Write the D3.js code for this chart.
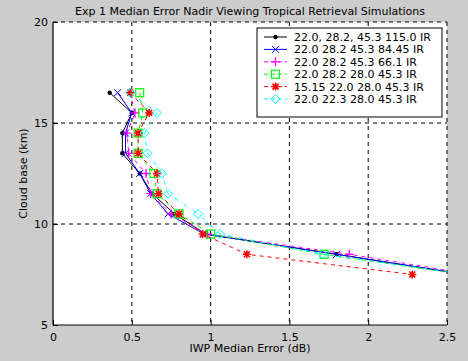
<!DOCTYPE html>
<html>
<head>
    <script src="https://cdn.jsdelivr.net/npm/d3@7/dist/d3.min.js"></script>
    <style>
        html, body { margin: 0; padding: 0; background: #cccccc; overflow: hidden; }
        svg { display: block; }
        text { font-family: "DejaVu Sans", Arial, sans-serif; }
    </style>
</head>
<body>
    <svg width="468" height="361" id="mainsvg"></svg>
    <script>
        // cloud base levels (km)
        const cloudBase = [16.5, 15.5, 14.5, 13.5, 12.5, 11.5, 10.5, 9.5, 8.5, 7.5];

        // IWP median error (dB) per simulation
        const err115 = [0.36, 0.50, 0.44, 0.44, 0.55, 0.63, 0.77, 0.97, 1.80, 2.61];
        const err8445 = [0.41, 0.50, 0.46, 0.46, 0.55, 0.62, 0.73, 0.96, 1.80, 2.62];
        const err661 = [0.49, 0.52, 0.47, 0.48, 0.59, 0.62, 0.75, 0.98, 1.88, 2.66];
        const err453 = [0.55, 0.57, 0.54, 0.54, 0.64, 0.66, 0.80, 1.00, 1.72, 2.60];
        const err1515 = [0.49, 0.61, 0.54, 0.54, 0.66, 0.67, 0.80, 0.95, 1.23, 2.28];
        const err223 = [0.49, 0.66, 0.58, 0.60, 0.69, 0.73, 0.92, 1.06, 1.71, 2.63];

        const legendLabels = [
            '22.0, 28.2, 45.3 115.0 IR',
            '22.0 28.2 45.3 84.45 IR',
            '22.0 28.2 45.3 66.1 IR',
            '22.0 28.2 28.0 45.3 IR',
            '15.15 22.0 28.0 45.3 IR',
            '22.0 22.3 28.0 45.3 IR'
        ];
        const xTicks = [0, 0.5, 1, 1.5, 2, 2.5];
        const yTicks = [5, 10, 15, 20];

        const series = [
            { name: legendLabels[0], values: err115, color: '#000000', dash: null, marker: 'dot' },
            { name: legendLabels[1], values: err8445, color: '#0000ff', dash: null, marker: 'x' },
            { name: legendLabels[2], values: err661, color: '#ff00ff', dash: '4,4', marker: 'plus' },
            { name: legendLabels[3], values: err453, color: '#00ff00', dash: '4,4', marker: 'square' },
            { name: legendLabels[4], values: err1515, color: '#ff0000', dash: '4,4', marker: 'star' },
            { name: legendLabels[5], values: err223, color: '#00ffff', dash: '4,3,1,3', marker: 'diamond' }
        ];

        const svg = d3.select('svg');
        const margin = { top: 22, right: 21, bottom: 36, left: 53 };
        const innerWidth = 468 - margin.left - margin.right;
        const innerHeight = 361 - margin.top - margin.bottom;

        const xScale = d3.scaleLinear().domain([0, 2.5]).range([0, innerWidth]);
        const yScale = d3.scaleLinear().domain([5, 20]).range([innerHeight, 0]);

        const g = svg.append('g')
            .attr('transform', `translate(${margin.left}, ${margin.top})`);

        g.append('rect')
            .attr('width', innerWidth)
            .attr('height', innerHeight)
            .attr('fill', 'white');

        g.append('clipPath').attr('id', 'clip')
            .append('rect').attr('width', innerWidth).attr('height', innerHeight);

        // grid
        g.selectAll('.xgrid').data(xTicks.slice(1))
            .join('line')
            .attr('x1', d => xScale(d)).attr('x2', d => xScale(d))
            .attr('y1', 0).attr('y2', innerHeight)
            .attr('stroke', 'black').attr('stroke-dasharray', '4,4');
        g.selectAll('.ygrid').data(yTicks.slice(1))
            .join('line')
            .attr('x1', 0).attr('x2', innerWidth)
            .attr('y1', d => yScale(d)).attr('y2', d => yScale(d))
            .attr('stroke', 'black').attr('stroke-dasharray', '4,4');

        // axes
        const xAxis = d3.axisBottom(xScale).tickValues(xTicks)
            .tickSize(-5).tickPadding(8).tickFormat(d3.format('~g'));
        const yAxis = d3.axisLeft(yScale).tickValues(yTicks)
            .tickSize(-5).tickPadding(5);

        const xg = g.append('g').attr('transform', `translate(0, ${innerHeight})`).call(xAxis);
        const yg = g.append('g').call(yAxis);
        [xg, yg].forEach(a => {
            a.select('.domain').attr('stroke', 'black').attr('stroke-width', 1.2);
            a.selectAll('.tick text').attr('font-size', '11px').attr('fill', 'black');
        });
        xg.select('.domain').attr('d', `M0,0H${innerWidth}`);
        yg.select('.domain').attr('d', `M0,0V${innerHeight}`);
        g.selectAll('.tick line').attr('stroke', 'black');

        const drawMarker = function (sel, type, color) {
            if (type === 'dot') {
                sel.append('circle').attr('r', 2.2).attr('fill', color);
            } else if (type === 'x') {
                sel.append('path').attr('d', 'M-3.5,-3.5L3.5,3.5M-3.5,3.5L3.5,-3.5')
                    .attr('stroke', color).attr('fill', 'none');
            } else if (type === 'plus') {
                sel.append('path').attr('d', 'M-4.5,0H4.5M0,-4.5V4.5')
                    .attr('stroke', color).attr('stroke-width', 1.3).attr('fill', 'none');
            } else if (type === 'square') {
                sel.append('rect').attr('x', -4).attr('y', -4).attr('width', 8).attr('height', 8)
                    .attr('stroke', color).attr('stroke-width', 1.2).attr('fill', 'none');
            } else if (type === 'star') {
                sel.append('path').attr('d', 'M-4,0H4M0,-4V4M-3,-3L3,3M-3,3L3,-3')
                    .attr('stroke', color).attr('stroke-width', 1.5).attr('fill', 'none');
            } else if (type === 'diamond') {
                sel.append('path').attr('d', 'M0,-4.5L4.5,0L0,4.5L-4.5,0Z')
                    .attr('stroke', color).attr('fill', 'none');
            }
        };

        const line = d3.line()
            .x(d => xScale(d.x))
            .y(d => yScale(d.y));

        const plot = g.append('g').attr('clip-path', 'url(#clip)');

        series.forEach(s => {
            const pts = s.values.map((v, i) => ({ x: v, y: cloudBase[i] }));
            plot.append('path')
                .datum(pts)
                .attr('d', line)
                .attr('fill', 'none')
                .attr('stroke', s.color)
                .attr('stroke-width', 1)
                .attr('stroke-dasharray', s.dash);
            plot.selectAll(null).data(pts)
                .join('g')
                .attr('transform', d => `translate(${xScale(d.x)}, ${yScale(d.y)})`)
                .each(function () { drawMarker(d3.select(this), s.marker, s.color); });
        });

        // legend
        const legend = svg.append('g').attr('transform', 'translate(257, 28)');
        legend.append('rect')
            .attr('width', 185).attr('height', 89)
            .attr('fill', 'white').attr('stroke', 'black');
        series.forEach((s, i) => {
            const row = legend.append('g').attr('transform', `translate(0, ${9 + i * 12.4})`);
            row.append('line')
                .attr('x1', 7).attr('x2', 30)
                .attr('stroke', s.color)
                .attr('stroke-dasharray', s.dash ? '4,3' : null);
            const m = row.append('g').attr('transform', 'translate(18.5, 0)');
            drawMarker(m, s.marker, s.color);
            row.append('text')
                .attr('x', 37).attr('y', 4)
                .attr('font-size', '11px')
                .text(s.name);
        });

        // labels
        svg.append('text')
            .attr('x', margin.left + innerWidth / 2).attr('y', 15)
            .attr('text-anchor', 'middle').attr('font-size', '11px')
            .text('Exp 1 Median Error Nadir Viewing Tropical Retrieval Simulations');
        svg.append('text')
            .attr('x', margin.left + innerWidth / 2).attr('y', 352)
            .attr('text-anchor', 'middle').attr('font-size', '11px')
            .text('IWP Median Error (dB)');
        svg.append('text')
            .attr('transform', `translate(27, ${margin.top + innerHeight / 2}) rotate(-90)`)
            .attr('text-anchor', 'middle').attr('font-size', '11px')
            .text('Cloud base (km)');
    </script>
</body>
</html>
